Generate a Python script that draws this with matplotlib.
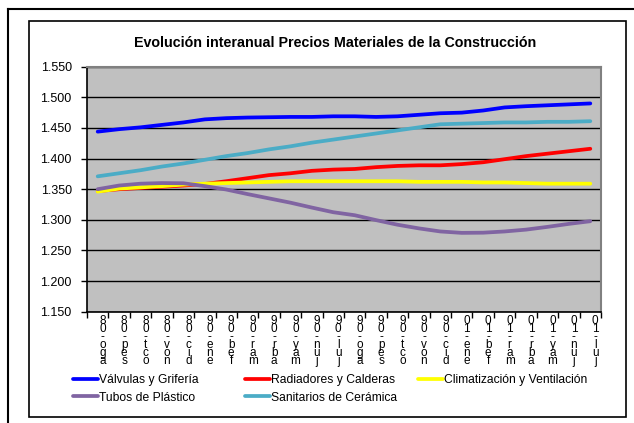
import numpy as np
import matplotlib
matplotlib.use("Agg")
import matplotlib.pyplot as plt
from matplotlib.lines import Line2D
from matplotlib.transforms import offset_copy

plt.rcParams['font.family'] = ['Liberation Sans', 'DejaVu Sans']

months = ['ago-08', 'sep-08', 'oct-08', 'nov-08', 'dic-08', 'ene-09', 'feb-09', 'mar-09',
          'abr-09', 'may-09', 'jun-09', 'jul-09', 'ago-09', 'sep-09', 'oct-09', 'nov-09',
          'dic-09', 'ene-10', 'feb-10', 'mar-10', 'abr-10', 'may-10', 'jun-10', 'jul-10']

valvulas = [1.444, 1.448, 1.451, 1.455, 1.459, 1.464, 1.466, 1.467, 1.4675, 1.468, 1.468, 1.469,
            1.469, 1.468, 1.469, 1.4715, 1.474, 1.475, 1.4785, 1.4835, 1.4855, 1.487, 1.4885, 1.490]
radiadores = [1.347, 1.350, 1.352, 1.354, 1.356, 1.3585, 1.363, 1.368, 1.373, 1.376, 1.380, 1.382,
              1.383, 1.386, 1.388, 1.389, 1.389, 1.391, 1.394, 1.399, 1.404, 1.408, 1.412, 1.416]
climatizacion = [1.346, 1.351, 1.353, 1.355, 1.3575, 1.359, 1.360, 1.361, 1.362, 1.363, 1.363, 1.363,
                 1.363, 1.363, 1.363, 1.362, 1.362, 1.362, 1.361, 1.361, 1.360, 1.359, 1.359, 1.359]
tubos = [1.350, 1.356, 1.359, 1.360, 1.3597, 1.355, 1.3495, 1.342, 1.335, 1.328, 1.320, 1.3124,
         1.3075, 1.2995, 1.292, 1.286, 1.281, 1.2787, 1.279, 1.281, 1.284, 1.2885, 1.2934, 1.2977]
sanitarios = [1.371, 1.376, 1.381, 1.387, 1.392, 1.398, 1.404, 1.409, 1.415, 1.420, 1.426, 1.431,
              1.436, 1.441, 1.446, 1.451, 1.456, 1.457, 1.458, 1.459, 1.459, 1.460, 1.460, 1.461]

series_names = ['Válvulas y Grifería', 'Radiadores y Calderas', 'Climatización y Ventilación',
                'Tubos de Plástico', 'Sanitarios de Cerámica']
series_colors = ['#0000FF', '#FF0000', '#FFFF00', '#8064A2', '#4BACC6']
yticks = [1.150, 1.200, 1.250, 1.300, 1.350, 1.400, 1.450, 1.500, 1.550]

W, H = 634, 423
fig = plt.figure(figsize=(W / 100, H / 100), dpi=100)
fig.patch.set_facecolor('white')

# outer frame (top + left only) and the chart area box
fig.add_artist(Line2D([8 / W, 1], [1 - 9 / H, 1 - 9 / H], color='black', lw=1.5))
fig.add_artist(Line2D([8 / W, 8 / W], [0, 1 - 9 / H], color='black', lw=1.5))
fig.add_artist(plt.Rectangle((29 / W, 1 - 416.5 / H), (625.5 - 29) / W, (416.5 - 21) / H,
                             transform=fig.transFigure, fill=False, ec='black', lw=1.2))

ax = fig.add_axes([87 / W, 1 - 311.7 / H, (601 - 87) / W, (311.7 - 66.7) / H])
ax.set_facecolor('#C0C0C0')

x = np.arange(len(months))
data = [valvulas, radiadores, climatizacion, tubos, sanitarios]
for vals, name, col in zip(data, series_names, series_colors):
    ax.plot(x, vals, color=col, lw=2.7, solid_capstyle='round', label=name)

ax.set_xlim(-0.5, len(months) - 0.5)
ax.set_ylim(yticks[0], yticks[-1])
ax.set_yticks(yticks)
ax.set_yticklabels(['%.3f' % v for v in yticks], fontsize=9)
ax.yaxis.grid(True, color='black', lw=1.0)
ax.set_axisbelow(True)

ax.set_xticks(np.arange(len(months) + 1) - 0.5)
ax.set_xticklabels([])
ax.tick_params(axis='both', direction='out', length=4, width=1, color='black')
ax.tick_params(axis='y', pad=7)

for side in ['top', 'right']:
    ax.spines[side].set_color('#808080')
    ax.spines[side].set_linewidth(1.5)
for side in ['left', 'bottom']:
    ax.spines[side].set_color('black')
    ax.spines[side].set_linewidth(1.2)

# month labels stacked one char per line, reversed like the original
trans = offset_copy(ax.get_xaxis_transform(), fig=fig, x=5, y=-3, units='dots')
for i, m in enumerate(months):
    ax.text(i, 0, '\n'.join(reversed(m)), transform=trans, ha='center', va='top',
            fontsize=8.5, linespacing=0.56, multialignment='center')

fig.text(335 / W, 1 - 43 / H, 'Evolución interanual Precios Materiales de la Construcción',
         ha='center', va='center', fontsize=10.3, fontweight='bold')

# legend in three fixed columns like Excel
handles = ax.get_lines()
columns = [([0, 3], 73), ([1, 4], 245), ([2], 418)]
for idx, xpos in columns:
    leg = fig.legend([handles[k] for k in idx], [series_names[k] for k in idx],
                     loc='upper left', bbox_to_anchor=(xpos / W, 1 - 374 / H),
                     frameon=False, fontsize=8.7, handlelength=2.1, handletextpad=0.05,
                     borderpad=0, borderaxespad=0, labelspacing=0.47)

fig.savefig('out.png', dpi=100)
